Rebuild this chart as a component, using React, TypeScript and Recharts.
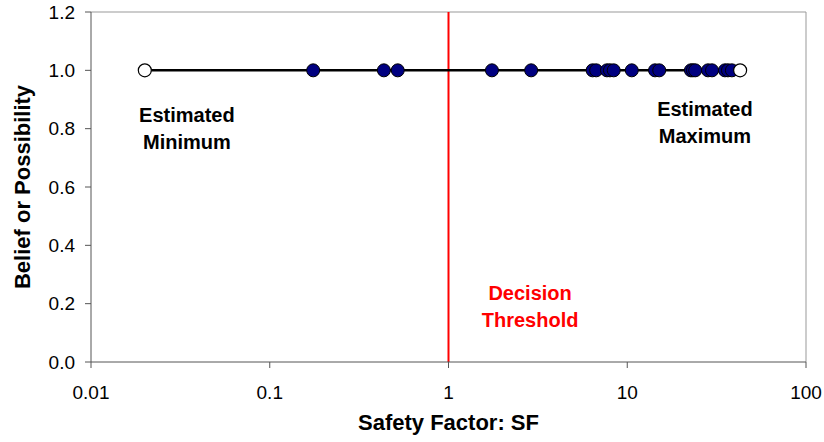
import React from "react";
import {
  ComposedChart,
  Scatter,
  XAxis,
  YAxis,
  ReferenceLine,
  ReferenceDot,
} from "recharts";

// safety factor samples, all with belief 1.0
const sfSamples = [
  0.175, 0.435, 0.52, 1.75, 2.9, 6.4, 6.7, 7.7, 8.0, 8.4, 10.6, 14.3, 15.1,
  22.7, 23.3, 24.0, 28.3, 29.8, 35.2, 36.6, 38.5,
];
const estimatedMin = 0.02;
const estimatedMax = 42.8;
const beliefLevel = 1.0;

const xTicks = [0.01, 0.1, 1, 10, 100];
const yTicks = [0, 0.2, 0.4, 0.6, 0.8, 1.0, 1.2];

const points = sfSamples.map((sf) => ({ sf, belief: beliefLevel }));
const ends = [
  { sf: estimatedMin, belief: beliefLevel },
  { sf: estimatedMax, belief: beliefLevel },
];

const FONT = "'Liberation Sans', Arial, sans-serif";

const FilledDot = (props: any) => (
  <circle cx={props.cx} cy={props.cy} r={6.5} fill="#000080" stroke="#000" strokeWidth={1} />
);
const OpenDot = (props: any) => (
  <circle cx={props.cx} cy={props.cy} r={6.5} fill="#fff" stroke="#000" strokeWidth={1.2} />
);
const NoDot = () => <g />;

// two-line bold annotation centred on a data point
const note = (lines: string[], color: string) => (props: any) => {
  const { viewBox } = props;
  const cx = viewBox.x + (viewBox.width || 0) / 2;
  const cy = viewBox.y + (viewBox.height || 0) / 2;
  return (
    <text
      x={cx}
      y={cy}
      textAnchor="middle"
      fill={color}
      fontFamily={FONT}
      fontWeight="bold"
      fontSize={20}
    >
      {lines.map((l, i) => (
        <tspan key={i} x={cx} dy={i === 0 ? -7 : 27}>
          {l}
        </tspan>
      ))}
    </text>
  );
};

export default function App() {
  return (
    <div style={{ position: "absolute", left: 0, top: 0, background: "#fff" }}>
      <ComposedChart
        width={824}
        height={442}
        margin={{ top: 12, right: 18, left: 0, bottom: 10 }}
      >
        <XAxis
          type="number"
          dataKey="sf"
          scale="log"
          domain={[0.01, 100]}
          ticks={xTicks}
          allowDataOverflow
          tickFormatter={(v: number) => String(v)}
          stroke="#555"
          tick={{ fill: "#000", fontSize: 19, fontFamily: FONT }}
          tickSize={6}
          tickMargin={18}
          height={70}
          label={{
            value: "Safety Factor: SF",
            position: "insideBottom",
            offset: 2,
            style: { fill: "#000", fontSize: 22, fontWeight: "bold", fontFamily: FONT },
          }}
        />
        <YAxis
          type="number"
          dataKey="belief"
          domain={[0, 1.2]}
          ticks={yTicks}
          tickFormatter={(v: number) => v.toFixed(1)}
          stroke="#555"
          tick={{ fill: "#000", fontSize: 19, fontFamily: FONT }}
          tickSize={6}
          tickMargin={10}
          width={91}
          label={{
            value: "Belief or Possibility",
            angle: -90,
            position: "insideLeft",
            offset: 22,
            style: { textAnchor: "middle", fill: "#000", fontSize: 22, fontWeight: "bold", fontFamily: FONT },
          }}
        />
        {/* plot frame, top and right */}
        <ReferenceLine y={1.2} stroke="#999" strokeWidth={1} />
        <ReferenceLine x={100} stroke="#999" strokeWidth={1} />

        <ReferenceLine x={1} stroke="#ff0000" strokeWidth={2} />

        <ReferenceDot
          x={0.0344}
          y={0.8}
          r={0}
          fill="none"
          stroke="none"
          label={{ content: note(["Estimated", "Minimum"], "#000") }}
        />
        <ReferenceDot
          x={27.2}
          y={0.82}
          r={0}
          fill="none"
          stroke="none"
          label={{ content: note(["Estimated", "Maximum"], "#000") }}
        />
        <ReferenceDot
          x={2.86}
          y={0.19}
          r={0}
          fill="none"
          stroke="none"
          label={{ content: note(["Decision", "Threshold"], "#ff0000") }}
        />

        {/* range line from estimated minimum to maximum */}
        <Scatter
          data={ends}
          line={{ stroke: "#000", strokeWidth: 2.5 }}
          shape={NoDot}
          isAnimationActive={false}
        />
        <Scatter data={points} shape={FilledDot} isAnimationActive={false} />
        <Scatter data={ends} shape={OpenDot} isAnimationActive={false} />
      </ComposedChart>
    </div>
  );
}
